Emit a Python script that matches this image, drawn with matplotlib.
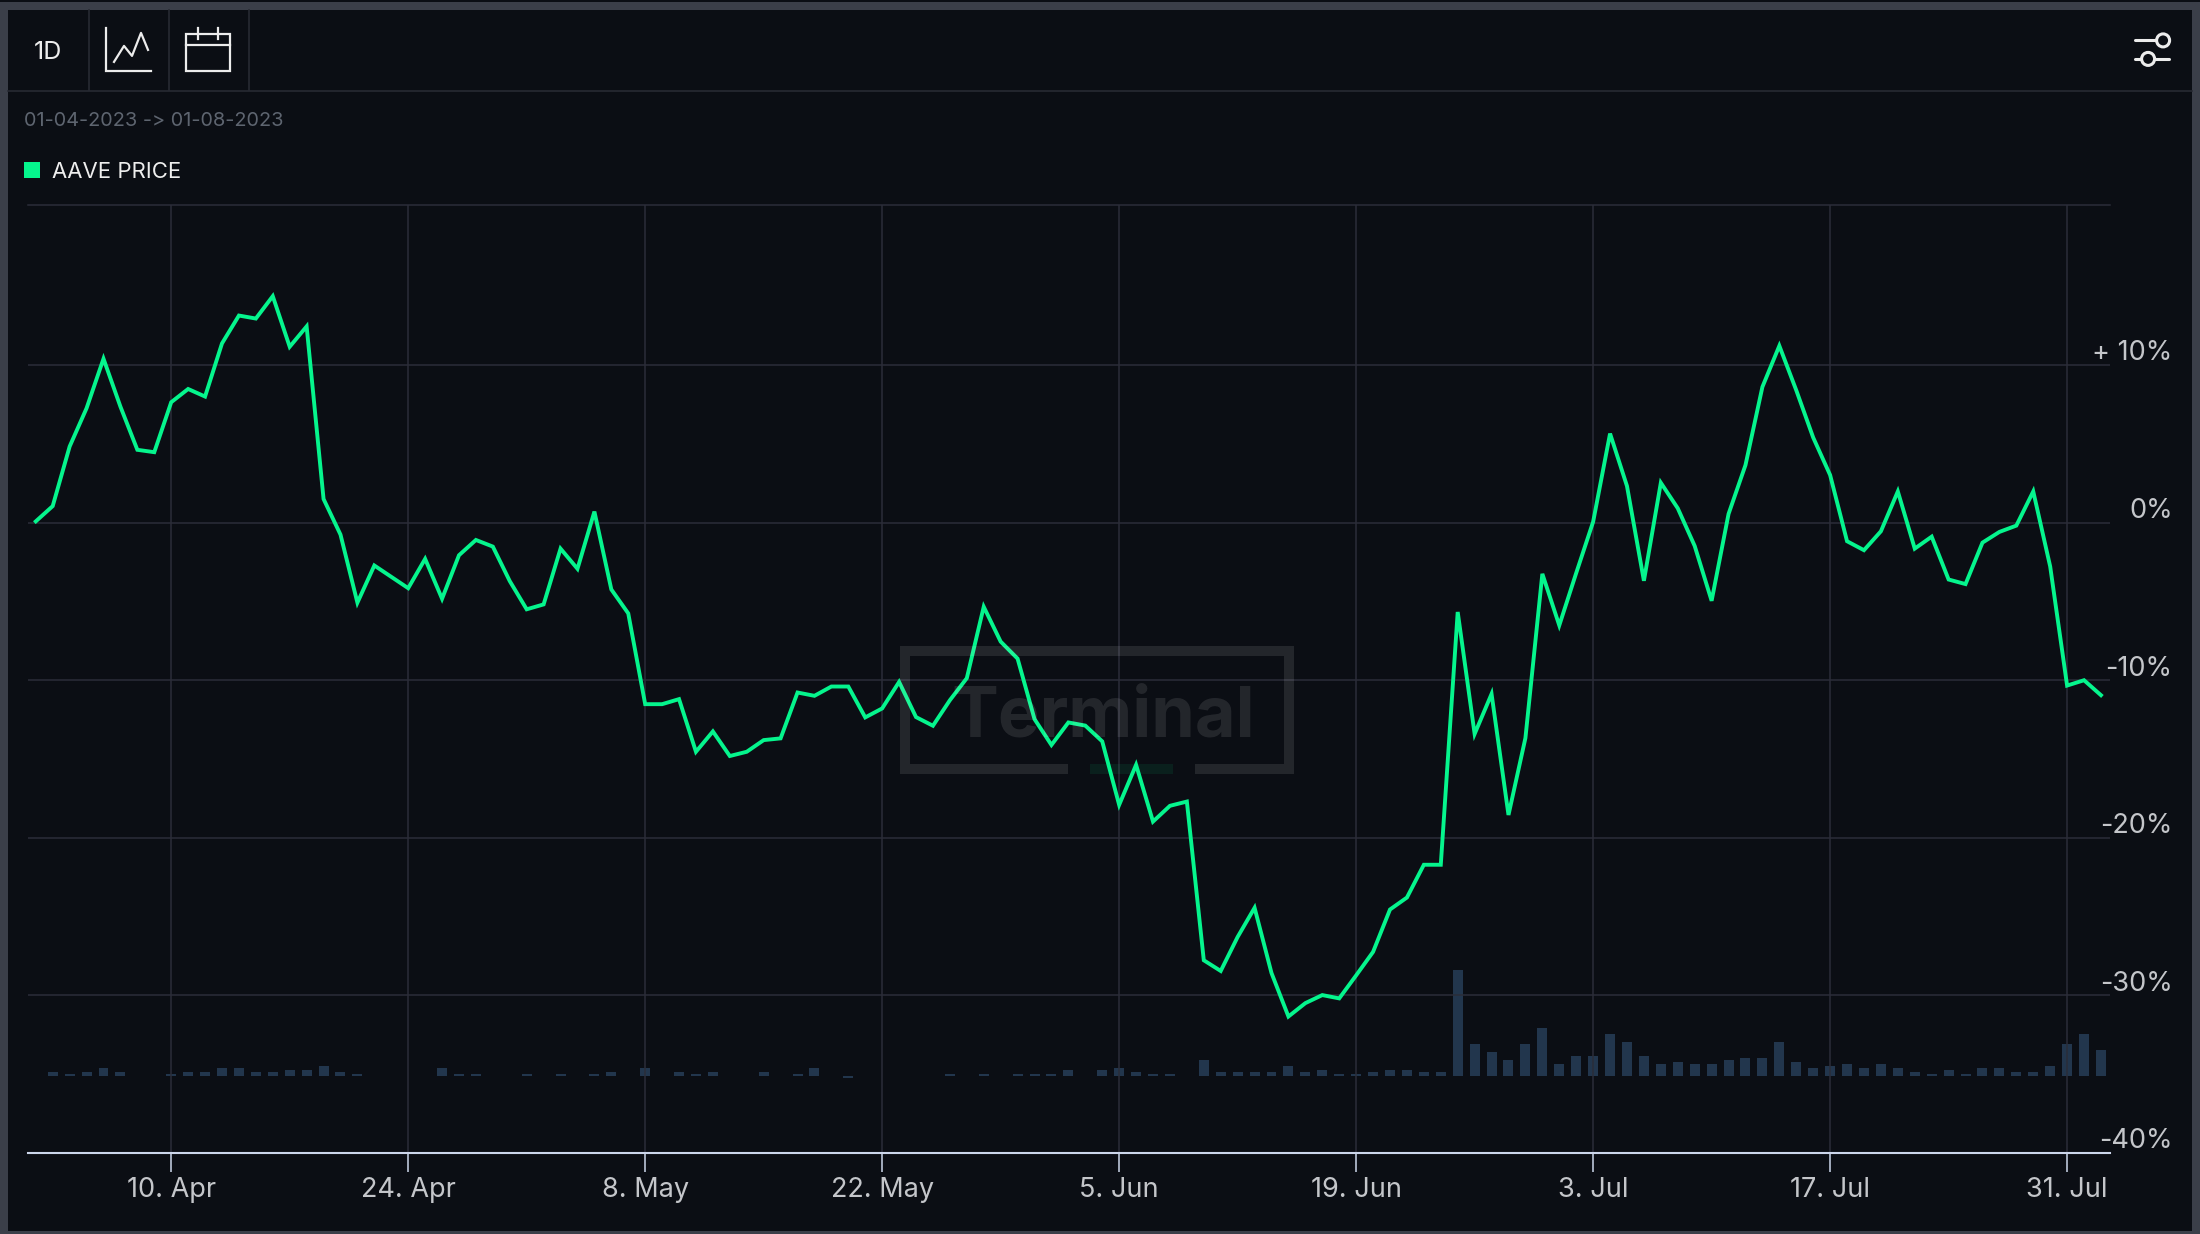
import pandas as pd
import matplotlib
matplotlib.use("Agg")
import matplotlib.pyplot as plt
from matplotlib.patches import Rectangle, Circle

plt.rcParams['font.family'] = ['Inter', 'DejaVu Sans']

start_date = '2023-04-02'

# percent change, one value per day
price = [0.08, 1.05, 4.83, 7.26, 10.4, 7.36, 4.62, 4.47, 7.64, 8.48,
         8.0, 11.37, 13.14, 12.95, 14.37, 11.16, 12.45, 1.5, -0.76, -5.08,
         -2.72, -3.44, -4.16, -2.3, -4.83, -2.07, -1.1, -1.52, -3.71, -5.5,
         -5.19, -1.65, -2.93, 0.7, -4.24, -5.76, -11.52, -11.52, -11.2, -14.54,
         -13.25, -14.81, -14.54, -13.8, -13.69, -10.78, -10.99, -10.4, -10.4, -12.36,
         -11.79, -10.11, -12.34, -12.89, -11.27, -9.87, -5.34, -7.55, -8.63, -12.47,
         -14.11, -12.68, -12.88, -13.88, -17.91, -15.37, -18.97, -17.97, -17.7, -27.77,
         -28.45, -26.29, -24.44, -28.58, -31.34, -30.49, -29.98, -30.19, -28.73, -27.24,
         -24.55, -23.79, -21.71, -21.71, -5.67, -13.41, -10.87, -18.55, -13.67, -3.25,
         -6.52, -3.2, 0.05, 5.65, 2.32, -3.69, 2.53, 0.91, -1.48, -4.96,
         0.55, 3.65, 8.61, 11.22, 8.4, 5.4, 3.02, -1.18, -1.75, -0.55,
         1.98, -1.65, -0.89, -3.61, -3.9, -1.27, -0.59, -0.19, 1.98, -2.78,
         -10.34, -10.0, -10.95]

# volume bars, relative height
volume = [0, 4, 2, 4, 8, 4, 0, 0, 2, 4,
          4, 8, 8, 4, 4, 6, 6, 10, 4, 2,
          0, 0, 0, 0, 8, 2, 2, 0, 0, 2,
          0, 2, 0, 2, 4, 0, 8, 0, 4, 2,
          4, 0, 0, 4, 0, 2, 8, 0, -2, 0,
          0, 0, 0, 0, 2, 0, 2, 0, 2, 2,
          2, 6, 0, 6, 8, 4, 2, 2, 0, 16,
          4, 4, 4, 4, 10, 4, 6, 2, 2, 4,
          6, 6, 4, 4, 106, 32, 24, 16, 32, 48,
          12, 20, 20, 42, 34, 20, 12, 14, 12, 12,
          16, 18, 18, 34, 14, 8, 10, 12, 8, 12,
          8, 4, 2, 6, 2, 8, 8, 4, 4, 10,
          32, 42, 26]

x_ticks = ['2023-04-10', '2023-04-24', '2023-05-08', '2023-05-22', '2023-06-05',
           '2023-06-19', '2023-07-03', '2023-07-17', '2023-07-31']
x_labels = ['10. Apr', '24. Apr', '8. May', '22. May', '5. Jun',
            '19. Jun', '3. Jul', '17. Jul', '31. Jul']
y_ticks = [10, 0, -10, -20, -30, -40]
y_labels = ['+ 10%', '0%', '-10%', '-20%', '-30%', '-40%']

BG = '#0b0e14'
BORDER = '#3b3f49'
SEP = '#272a33'
GRID = '#2b2d39'
GREEN = '#05f58d'
W, H = 2200, 1234

fig = plt.figure(figsize=(W / 100 + 0.001, H / 100 + 0.001), dpi=100, facecolor=BG)

# pixel overlay for the app chrome around the chart
ui = fig.add_axes([0, 0, 1, 1], zorder=0)
ui.set_xlim(0, W)
ui.set_ylim(H, 0)
ui.axis('off')

ui.add_patch(Rectangle((0, 2), W, 8, color=BORDER, lw=0))
ui.add_patch(Rectangle((0, 2), 8, H, color=BORDER, lw=0))
ui.add_patch(Rectangle((2192, 2), 8, H, color=BORDER, lw=0))
ui.add_patch(Rectangle((0, 1231), W, 3, color=BORDER, lw=0))
ui.plot([8, 2192], [91, 91], color=SEP, lw=1.2)
for sx in [89, 169, 249]:
    ui.plot([sx, sx], [10, 90], color=SEP, lw=1.2)

ICON = '#ececec'
ui.text(48, 52, '1D', color=ICON, fontsize=18, ha='center', va='center')
ui.plot([106, 106, 151], [28, 71.5, 71.5], color=ICON, lw=1.6, solid_joinstyle='miter')
ui.plot([114, 124, 132, 141, 148], [62, 46, 56, 33, 50], color=ICON, lw=1.6)
ui.add_patch(Rectangle((186, 34), 44, 37, fill=False, ec=ICON, lw=1.6))
ui.plot([186, 230], [45.5, 45.5], color=ICON, lw=1.6)
ui.plot([198, 198], [28, 39], color=ICON, lw=1.6)
ui.plot([218, 218], [28, 39], color=ICON, lw=1.6)
ui.plot([2135, 2156], [40.5, 40.5], color=ICON, lw=2.2, solid_capstyle='round')
ui.add_patch(Circle((2163, 40.5), 6.5, fill=False, ec=ICON, lw=2.2))
ui.plot([2135, 2141], [59, 59], color=ICON, lw=2.2, solid_capstyle='round')
ui.plot([2155, 2169], [59, 59], color=ICON, lw=2.2, solid_capstyle='round')
ui.add_patch(Circle((2148, 59), 6.5, fill=False, ec=ICON, lw=2.2))

ui.text(24, 121, '01-04-2023 -> 01-08-2023', color='#5e6570', fontsize=14.35, va='center')
ui.add_patch(Rectangle((24, 162), 16, 16, color=GREEN, lw=0))
ui.text(52, 171.5, 'AAVE PRICE', color='#eeeeee', fontsize=15.9, va='center')

# chart
dates = pd.date_range(start_date, periods=len(price))
day = pd.Timedelta(days=1)
left = 28
right = 2110
top = 205
bottom = 1153
pos = [left / W, 1 - bottom / H, (right - left) / W, (bottom - top) / H]

bars = fig.add_axes(pos, zorder=1)
bars.patch.set_visible(False)
bars.bar(dates, volume, width=0.59, color='#22364d', linewidth=0)
bars.set_ylim(-77, 871)
bars.set_xlim(dates[0] - 0.46 * day, dates[0] + 122.54 * day)
bars.axis('off')

ax = fig.add_axes(pos, zorder=2)
ax.patch.set_visible(False)
ax.plot(dates, price, color=GREEN, lw=2.8, solid_joinstyle='miter')
ax.set_xlim(dates[0] - 0.46 * day, dates[0] + 122.54 * day)
ax.set_ylim(-40, 20.16)
ax.set_xticks(pd.to_datetime(x_ticks))
ax.set_xticklabels(x_labels)
ax.set_yticks(y_ticks)
ax.set_yticklabels([])
ax.grid(True, color=GRID, lw=1.1)
ax.set_axisbelow(True)
ax.tick_params(axis='x', color='#ccd6eb', width=1.1, length=14, labelcolor='#c4c6ca',
               labelsize=19.5, pad=3)
ax.tick_params(axis='y', length=0)
for side in ['left', 'right']:
    ax.spines[side].set_visible(False)
ax.spines['top'].set_color(GRID)
ax.spines['top'].set_linewidth(1.1)
ax.spines['bottom'].set_color('#ccd6eb')
ax.spines['bottom'].set_linewidth(1.5)

for v, lab in zip(y_ticks, y_labels):
    ax.annotate(lab, xy=(1, v), xycoords=('axes fraction', 'data'), xytext=(45, 8.5),
                textcoords='offset points', ha='right', va='center', color='#c4c6ca',
                fontsize=19.5, annotation_clip=False)

# watermark sits on top of everything, it lightens the line where they cross
mark = fig.add_axes([0, 0, 1, 1], zorder=3)
mark.set_xlim(0, W)
mark.set_ylim(H, 0)
mark.axis('off')
white = dict(color='white', alpha=0.1, lw=0)
mark.add_patch(Rectangle((900, 646), 394, 10, **white))
mark.add_patch(Rectangle((900, 656), 10, 118, **white))
mark.add_patch(Rectangle((1284, 656), 10, 118, **white))
mark.add_patch(Rectangle((910, 764), 158, 10, **white))
mark.add_patch(Rectangle((1195, 764), 89, 10, **white))
mark.add_patch(Rectangle((1090, 764), 83, 10, color=GREEN, alpha=0.08, lw=0))
mark.text(1103, 718, 'Terminal', color='white', alpha=0.1, fontsize=50.5, fontweight='bold',
          ha='center', va='center')

fig.savefig('out.png', dpi=100, facecolor=BG)
